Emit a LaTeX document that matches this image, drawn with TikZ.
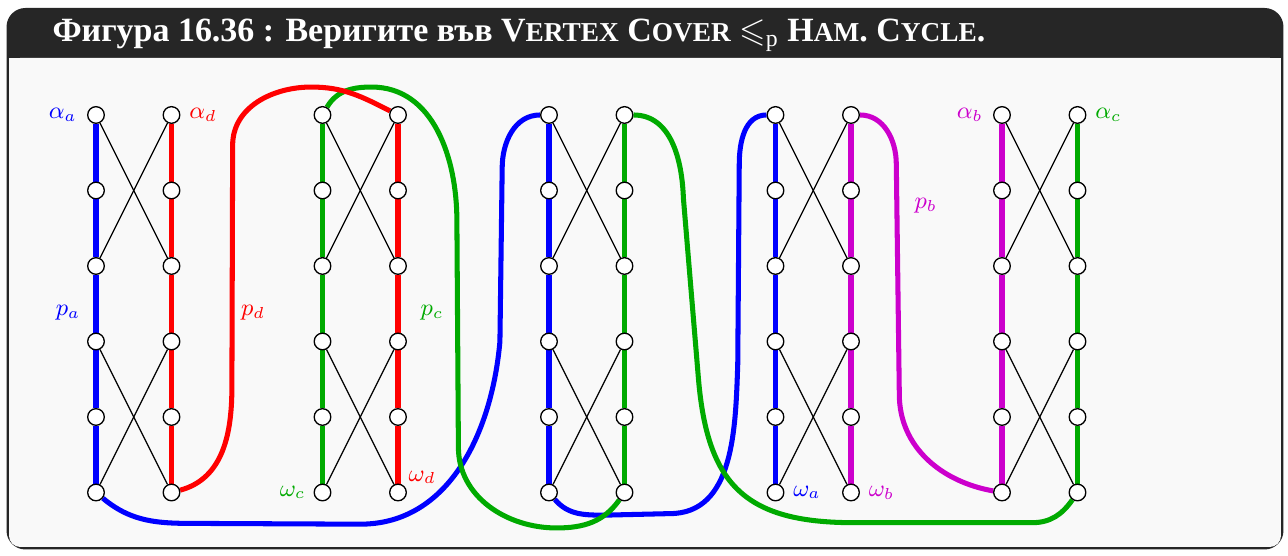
\documentclass[tikz,border=0pt]{standalone}
\usepackage{amssymb}
\usepackage{fontspec}
\setmainfont{Liberation Serif}
\usetikzlibrary{positioning, calc, backgrounds}
\definecolor{chainblue}{RGB}{0,0,255}
\definecolor{chainred}{RGB}{255,0,0}
\definecolor{chaingreen}{RGB}{0,170,0}
\definecolor{chainmag}{RGB}{204,0,204}
\definecolor{framedark}{RGB}{38,38,38}
\definecolor{framebg}{RGB}{249,249,249}
\newcommand{\fakesc}[2]{#1{\fontsize{10.3}{11}\selectfont #2}}

\begin{document}
\begin{tikzpicture}[
      vtx/.style={circle, draw, fill=white, line width=0.5pt,
                  inner sep=0pt, minimum size=2.2mm},
      cover/.style={line width=1.9pt, draw=#1},
      rung/.style={line width=0.45pt},
      lbl/.style={inner sep=0pt, font=\small},
    ]
    \useasboundingbox (-1.2715,-5.841) rectangle (15.788,1.523);

    % gadget vertices
    \foreach \g in {0,...,4} {
      \foreach \r in {0,...,5} {
        \node[vtx] (g\g l\r) at (3*\g,-\r) {};
        \node[vtx] (g\g r\r) at (3*\g+1,-\r) {};
      }
    }

    \node[anchor=base west, text=white, font=\bfseries\fontsize{12.8}{15}\selectfont]
      (title) at (-0.7,0.967)
      {Фигура 16.36 : Веригите във \fakesc{V}{ERTEX} \fakesc{C}{OVER}
       $\leqslant_{\mathrm{p}}$ \fakesc{H}{AM}. \fakesc{C}{YCLE}.};

    % labels
    \node[lbl, text=chainblue, left=1.3mm of g0l0] (aa) {$\alpha_a$};
    \node[lbl, text=chainred, right=1.1mm of g0r0] (ad) {$\alpha_d$};
    \node[lbl, text=chainmag, left=1.3mm of g4l0] (ab) {$\alpha_b$};
    \node[lbl, text=chaingreen, right=1.1mm of g4r0] (ac) {$\alpha_c$};
    \node[lbl, text=chaingreen, left=1mm of g1l5] (wc) {$\omega_c$};
    \node[lbl, text=chainblue, right=1.1mm of g3l5] (wa) {$\omega_a$};
    \node[lbl, text=chainmag, right=1.1mm of g3r5] (wb) {$\omega_b$};
    \node[lbl, text=chainred] (wd) at (4.32,-4.8) {$\omega_d$};
    \node[lbl, text=chainblue] (pa) at (-0.37,-2.62) {$p_a$};
    \node[lbl, text=chainred] (pd) at (2.08,-2.62) {$p_d$};
    \node[lbl, text=chaingreen] (pc) at (4.45,-2.62) {$p_c$};
    \node[lbl, text=chainmag] (pb) at (10.99,-1.2) {$p_b$};

    \begin{scope}[on background layer]
      % frame
      \fill[framedark, rounded corners=2.5mm] (-1.185,-5.755) rectangle (15.728,1.417);
      \fill[framebg, rounded corners=1.5mm] (-1.152,-5.722) rectangle (15.695,0.755);
      \fill[framebg] (-1.152,0.3) rectangle (15.695,0.755);

      % chains and rungs
      \foreach \g/\cl/\cr in {0/chainblue/chainred, 1/chaingreen/chainred,
                              2/chainblue/chaingreen, 3/chainblue/chainmag,
                              4/chainmag/chaingreen} {
        \draw[cover=\cl] (g\g l0) -- (g\g l1) -- (g\g l2) -- (g\g l3) -- (g\g l4) -- (g\g l5);
        \draw[cover=\cr] (g\g r0) -- (g\g r1) -- (g\g r2) -- (g\g r3) -- (g\g r4) -- (g\g r5);
        \draw[rung] (g\g l0) -- (g\g r2);
        \draw[rung] (g\g r0) -- (g\g l2);
        \draw[rung] (g\g l3) -- (g\g r5);
        \draw[rung] (g\g r3) -- (g\g l5);
      }

      % path a
      \draw[cover=chainblue] (g0l5) to[out=-40,in=180] (1.4,-5.41) -- (3.5,-5.42)
        to[out=0,in=-95] (5.35,-3.0) -- (5.38,-0.7) to[out=90,in=180] (g2l0);
      \draw[cover=chainblue] (g2l5) to[out=-50,in=180] (6.75,-5.3) -- (7.6,-5.28)
        to[out=0,in=-92] (8.5,-3.3) -- (8.52,-0.65) to[out=90,in=180] (g3l0);
      % path c
      \draw[cover=chaingreen] (g1l0) to[out=60,in=180] (3.65,0.37)
        to[out=0,in=90] (4.78,-1.4) -- (4.8,-4.4)
        to[out=-90,in=180] (6.1,-5.47) to[out=0,in=-125] (g2r5);
      \draw[cover=chaingreen] (g2r0) to[out=0,in=92] (7.78,-1.1) -- (7.98,-3.5)
        .. controls (8.1,-4.9) and (8.6,-5.39) .. (10,-5.4) -- (12.4,-5.4)
        to[out=0,in=-125] (g4r5);
      % path d
      \draw[cover=chainred] (g0r5) to[out=15,in=-90] (1.8,-3.6) -- (1.81,-0.4)
        to[out=90,in=180] (2.85,0.37) to[out=0,in=153] (g1r0);
      % path b
      \draw[cover=chainmag] (g3r0) to[out=0,in=90] (10.6,-0.65) -- (10.64,-3.7)
        to[out=-90,in=170] (g4l5);
    \end{scope}
\end{tikzpicture}
\end{document}
